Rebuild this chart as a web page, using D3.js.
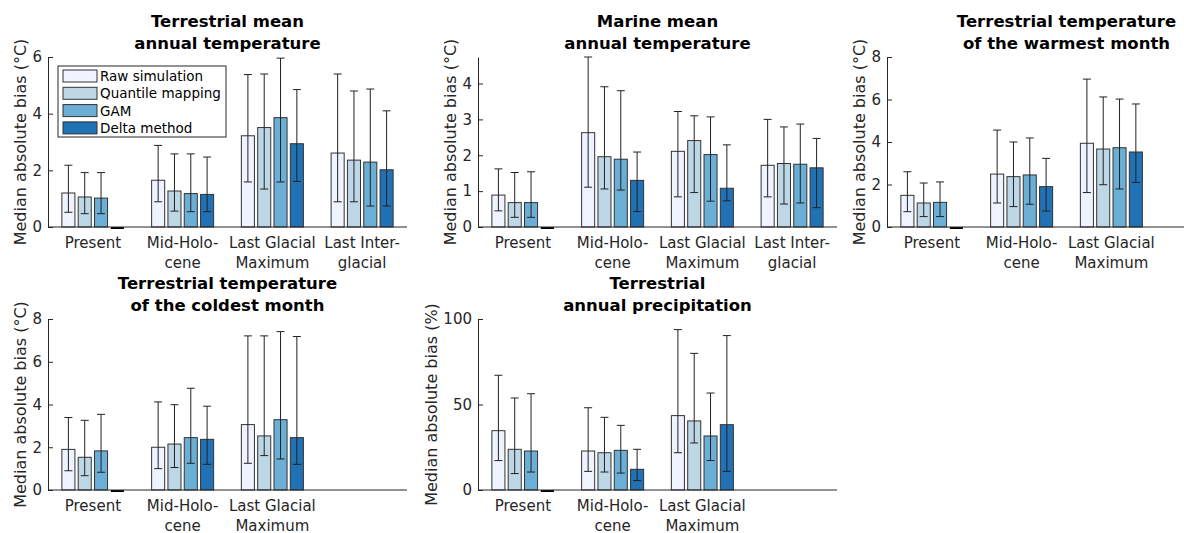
<!DOCTYPE html>
<html>
<head>
<meta charset="utf-8">
<script src="https://cdn.jsdelivr.net/npm/d3@7"></script>
<style>
    body { margin: 0; background: #fff; }
    svg text { font-family: "DejaVu Sans", sans-serif; fill: #262626; }
    .chartTitle { font-weight: bold; font-size: 16.5px; fill: #000; }
    .tickText { font-size: 15px; }
    .yLabel { font-size: 16px; }
    .axisLine { stroke: #262626; stroke-width: 1; fill: none; }
    .legendText { font-size: 13.5px; fill: #000; }
    .errBar { stroke: #222; stroke-width: 1; }
    .bar { stroke: #333; stroke-width: 1; }
</style>
</head>
<body>
<svg id="figure" width="1184" height="533"></svg>
<script>

// methods (series) and time periods (categories)
var methods = ["Raw simulation", "Quantile mapping", "GAM", "Delta method"];
var periods = [["Present"], ["Mid-Holo-", "cene"], ["Last Glacial", "Maximum"], ["Last Inter-", "glacial"]];

// rows = methods, columns = periods; null = no error bar
// Terrestrial mean annual temperature (°C)
var tmatMedian = [[1.20, 1.65, 3.22, 2.61], [1.06, 1.27, 3.51, 2.36], [1.02, 1.18, 3.86, 2.29], [0, 1.15, 2.94, 2.02]];
var tmatLow    = [[0.52, 0.89, 1.59, 0.89], [0.47, 0.56, 1.34, 0.89], [0.47, 0.54, 1.59, 0.74], [null, 0.54, 1.61, 0.74]];
var tmatHigh   = [[2.18, 2.88, 5.38, 5.40], [1.92, 2.58, 5.40, 4.80], [1.92, 2.58, 5.96, 4.87], [null, 2.47, 4.85, 4.10]];

// Marine mean annual temperature (°C)
var mmatMedian = [[0.89, 2.63, 2.11, 1.72], [0.68, 1.96, 2.41, 1.77], [0.68, 1.89, 2.02, 1.75], [0, 1.30, 1.08, 1.65]];
var mmatLow    = [[0.45, 1.11, 0.84, 0.84], [0.27, 1.06, 0.96, 0.64], [0.27, 1.03, 0.72, 0.67], [null, 0.43, 0.73, 0.54]];
var mmatHigh   = [[1.62, 4.74, 3.22, 3.00], [1.52, 3.91, 3.10, 2.79], [1.54, 3.80, 3.07, 2.87], [null, 2.09, 2.29, 2.47]];

// Terrestrial temperature of the warmest month (°C)
var twarmMedian = [[1.49, 2.49, 3.94], [1.13, 2.37, 3.67], [1.16, 2.45, 3.73], [0, 1.90, 3.53]];
var twarmLow    = [[0.72, 1.13, 1.62], [0.49, 0.96, 1.99], [0.49, 1.07, 1.79], [null, 0.75, 2.10]];
var twarmHigh   = [[2.60, 4.56, 6.96], [2.07, 4.00, 6.12], [2.12, 4.19, 6.02], [null, 3.23, 5.79]];

// Terrestrial temperature of the coldest month (°C)
var tcoldMedian = [[1.90, 2.00, 3.06], [1.53, 2.15, 2.53], [1.83, 2.45, 3.29], [0, 2.37, 2.45]];
var tcoldLow    = [[0.90, 1.00, 1.25], [0.67, 1.05, 1.61], [0.83, 1.25, 1.45], [null, 1.20, 1.20]];
var tcoldHigh   = [[3.39, 4.12, 7.21], [3.26, 3.99, 7.21], [3.54, 4.76, 7.41], [null, 3.92, 7.18]];

// Terrestrial annual precipitation (%)
var precMedian = [[34.7, 22.8, 43.5], [23.8, 21.8, 40.4], [22.8, 23.2, 31.6], [0, 12.1, 38.2]];
var precLow    = [[17.2, 10.9, 21.8], [9.6, 10.5, 27.5], [10.5, 9.9, 17.2], [null, 5.5, 10.9]];
var precHigh   = [[67.1, 48.1, 93.8], [53.8, 42.5, 79.9], [56.3, 37.8, 56.7], [null, 23.8, 90.3]];

var methodColors = ["#eff3ff", "#bdd7e7", "#6baed6", "#2171b5"];

/**
 * Constructor for one grouped bar panel
 */
function BiasChart(svg, box, opts){
    var self = this;
    self.svg = svg;
    self.box = box;
    self.opts = opts;
    self.init();
};

BiasChart.prototype.init = function(){
    var self = this;
    self.g = self.svg.append("g");

    // MATLAB style: categories at 1..4 with half a category of padding
    self.xScale = d3.scaleLinear()
        .domain([0.5, 4.5])
        .range([self.box.x0, self.box.x1]);

    self.yScale = d3.scaleLinear()
        .domain([0, self.opts.yMax])
        .range([self.box.bottom, self.box.top]);
};

BiasChart.prototype.update = function(median, low, high, nPeriods){
    var self = this;
    var nSeries = median.length;
    var groupWidth = Math.min(0.8, nSeries / (nSeries + 1.5));
    var slot = groupWidth / nSeries;
    var barW = self.xScale(0.8 * slot) - self.xScale(0);

    var rows = [];
    median.forEach(function(series, j){
        series.forEach(function(v, i){
            rows.push({
                pos: (i + 1) + (j - (nSeries - 1) / 2) * slot,
                value: v,
                low: low[j][i],
                high: high[j][i],
                method: j
            });
        });
    });

    //bars
    self.g.selectAll("rect.bar")
        .data(rows)
        .enter()
        .append("rect")
        .attr("class", "bar")
        .attr("x", d => self.xScale(d.pos) - barW / 2)
        .attr("y", d => self.yScale(d.value))
        .attr("width", barW)
        .attr("height", d => self.yScale(0) - self.yScale(d.value))
        .attr("fill", d => methodColors[d.method]);

    // zero height bars show up as a thick line on the baseline
    self.g.selectAll("line.zeroBar")
        .data(rows.filter(d => d.value === 0))
        .enter()
        .append("line")
        .attr("x1", d => self.xScale(d.pos) - barW / 2)
        .attr("x2", d => self.xScale(d.pos) + barW / 2)
        .attr("y1", self.yScale(0) + 1)
        .attr("y2", self.yScale(0) + 1)
        .attr("stroke", "#000")
        .attr("stroke-width", 2);

    //error bars
    var errRows = rows.filter(d => d.low !== null);
    var capHalf = 4;
    var eb = self.g.selectAll("g.err")
        .data(errRows)
        .enter()
        .append("g")
        .attr("class", "err");
    eb.append("line")
        .attr("class", "errBar")
        .attr("x1", d => self.xScale(d.pos))
        .attr("x2", d => self.xScale(d.pos))
        .attr("y1", d => self.yScale(d.low))
        .attr("y2", d => self.yScale(d.high));
    eb.append("line")
        .attr("class", "errBar")
        .attr("x1", d => self.xScale(d.pos) - capHalf)
        .attr("x2", d => self.xScale(d.pos) + capHalf)
        .attr("y1", d => self.yScale(d.high))
        .attr("y2", d => self.yScale(d.high));
    eb.append("line")
        .attr("class", "errBar")
        .attr("x1", d => self.xScale(d.pos) - capHalf)
        .attr("x2", d => self.xScale(d.pos) + capHalf)
        .attr("y1", d => self.yScale(d.low))
        .attr("y2", d => self.yScale(d.low));

    // y axis, ticks point inwards
    var yAxis = d3.axisLeft(self.yScale)
        .tickValues(self.opts.yTicks)
        .tickFormat(d3.format("d"))
        .tickSizeInner(-5)
        .tickSizeOuter(0)
        .tickPadding(6);
    var yg = self.g.append("g")
        .attr("transform", "translate(" + self.box.x0 + ",0)")
        .call(yAxis);
    yg.select(".domain").attr("stroke", "#262626");
    yg.selectAll(".tick line").attr("stroke", "#262626");
    yg.selectAll(".tick text")
        .attr("class", "tickText")
        .attr("fill", null);
    yg.attr("font-family", null).attr("font-size", null);

    // widest tick label decides how far left the y label sits
    var tickW = d3.max(yg.selectAll(".tick text").nodes(), n => n.getBBox().width);

    // x axis baseline
    self.g.append("line")
        .attr("class", "axisLine")
        .attr("x1", self.box.x0)
        .attr("x2", self.box.x1)
        .attr("y1", self.yScale(0))
        .attr("y2", self.yScale(0));

    // category labels, possibly over two lines
    var labels = self.g.selectAll("text.cat")
        .data(periods.slice(0, nPeriods))
        .enter()
        .append("text")
        .attr("class", "tickText")
        .attr("text-anchor", "middle")
        .attr("x", (d, i) => self.xScale(i + 1))
        .attr("y", self.box.bottom + 21);
    labels.selectAll("tspan")
        .data(d => d)
        .enter()
        .append("tspan")
        .attr("x", function(){ return d3.select(this.parentNode).attr("x"); })
        .attr("dy", (d, k) => k == 0 ? 0 : 20)
        .text(d => d);

    // y label
    self.g.append("text")
        .attr("class", "yLabel")
        .attr("text-anchor", "middle")
        .attr("transform", "translate(" + (self.box.x0 - tickW - 12.5) + "," + ((self.box.top + self.box.bottom) / 2) + ") rotate(-90)")
        .text(self.opts.yLabel);

    // two line bold title
    var cx = (self.box.x0 + self.box.x1) / 2;
    self.opts.title.forEach(function(line, k){
        self.g.append("text")
            .attr("class", "chartTitle")
            .attr("text-anchor", "middle")
            .attr("x", cx)
            .attr("y", self.box.top - 30 + k * 22)
            .text(line);
    });
};

BiasChart.prototype.legend = function(x, y){
    var self = this;
    var lg = self.g.append("g").attr("transform", "translate(" + x + "," + y + ")");
    lg.append("rect")
        .attr("width", 168)
        .attr("height", 71)
        .attr("fill", "#fff")
        .attr("stroke", "#262626");
    var item = lg.selectAll("g.item")
        .data(methods)
        .enter()
        .append("g")
        .attr("transform", (d, i) => "translate(5," + (4 + i * 17.3) + ")");
    item.append("rect")
        .attr("width", 34)
        .attr("height", 12)
        .attr("fill", (d, i) => methodColors[i])
        .attr("stroke", "#333");
    item.append("text")
        .attr("class", "legendText")
        .attr("x", 37)
        .attr("y", 11)
        .text(d => d);
};

var svg = d3.select("#figure");
var degLabel = "Median absolute bias (\u00B0C)";

var c1 = new BiasChart(svg, {x0: 48, x1: 407, top: 57, bottom: 227},
    {yMax: 6, yTicks: [0, 2, 4, 6], yLabel: degLabel, title: ["Terrestrial mean", "annual temperature"]});
c1.update(tmatMedian, tmatLow, tmatHigh, 4);

var c2 = new BiasChart(svg, {x0: 478, x1: 837, top: 57, bottom: 227},
    {yMax: 4.74, yTicks: [0, 1, 2, 3, 4], yLabel: degLabel, title: ["Marine mean", "annual temperature"]});
c2.update(mmatMedian, mmatLow, mmatHigh, 4);

var c3 = new BiasChart(svg, {x0: 887, x1: 1246, top: 57, bottom: 227},
    {yMax: 8, yTicks: [0, 2, 4, 6, 8], yLabel: degLabel, title: ["Terrestrial temperature", "of the warmest month"]});
c3.update(twarmMedian, twarmLow, twarmHigh, 3);

var c4 = new BiasChart(svg, {x0: 48, x1: 407, top: 319, bottom: 490},
    {yMax: 8, yTicks: [0, 2, 4, 6, 8], yLabel: degLabel, title: ["Terrestrial temperature", "of the coldest month"]});
c4.update(tcoldMedian, tcoldLow, tcoldHigh, 3);

var c5 = new BiasChart(svg, {x0: 478, x1: 837, top: 319, bottom: 490},
    {yMax: 100, yTicks: [0, 50, 100], yLabel: "Median absolute bias (%)", title: ["Terrestrial", "annual precipitation"]});
c5.update(precMedian, precLow, precHigh, 3);

c1.legend(58, 66);

</script>
</body>
</html>
